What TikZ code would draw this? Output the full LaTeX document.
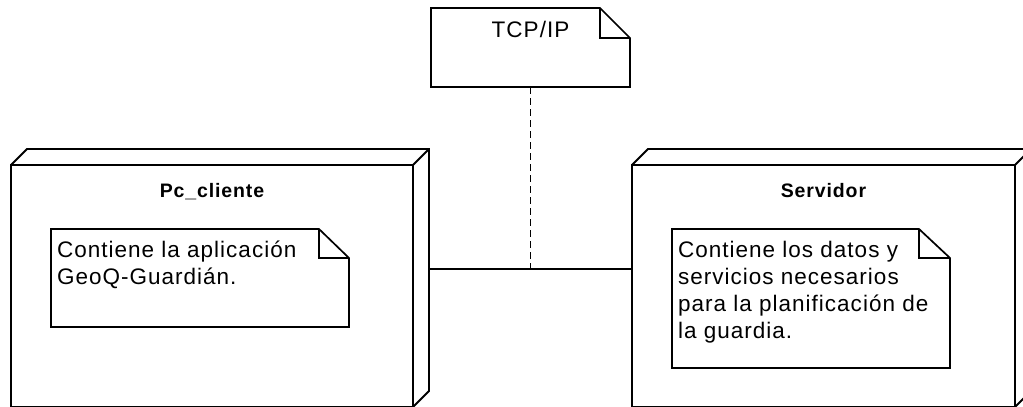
\documentclass[tikz,border=0pt]{standalone}
\usepackage{fontspec}
\setmainfont{Liberation Sans}
\newfontfamily\bodyfont{Liberation Sans}[LetterSpace=4.5]
\usetikzlibrary{calc}

\tikzset{
  nodebox/.style={rectangle, draw, line width=1.8pt, inner sep=0pt, outer sep=0pt},
  edge3d/.style={line width=1.8pt, line join=miter},
  notearea/.style={rectangle, draw=none, inner sep=0pt, outer sep=0pt},
  noteline/.style={line width=1.7pt, line join=miter},
  notetext/.style={inner sep=0pt, outer sep=0pt, font=\bodyfont\fontsize{22.5}{27}\selectfont},
  titletext/.style={inner sep=0pt, outer sep=0pt, font=\bodyfont\bfseries\fontsize{19.5}{23}\selectfont},
  link/.style={line width=1.7pt},
  dep/.style={line width=1.6pt, dash pattern=on 7pt off 4pt}
}

\begin{document}
\begin{tikzpicture}[x=1pt, y=-1pt]
\useasboundingbox (0,0) rectangle (1023,407);
\fill[white] (0,0) rectangle (1023,407);
\begin{scope}
\clip (0,0) rectangle (1023,407);

% client node (front face + 3D top and side)
\node[nodebox, minimum width=402pt, minimum height=242pt] (pc) at (212,286) {};
\draw[edge3d] (pc.north west) -- ++(16,-16) -- ($(pc.north east)+(16,-16)$)
  -- ($(pc.south east)+(16,-16)$) -- (pc.south east);
\draw[edge3d] (pc.north east) -- ++(16,-16);
\node[titletext, anchor=base] (pctitle) at ($(pc.north)+(0,32)$) {Pc\_cliente};

% server node
\node[nodebox, minimum width=383pt, minimum height=242pt] (srv) at (823.5,286) {};
\draw[edge3d] (srv.north west) -- ++(16,-16) -- ($(srv.north east)+(16,-16)$)
  -- ($(srv.south east)+(16,-16)$) -- (srv.south east);
\draw[edge3d] (srv.north east) -- ++(16,-16);
\node[titletext, anchor=base] (srvtitle) at ($(srv.north)+(0,32)$) {Servidor};

% note inside the client node
\node[notearea, minimum width=298pt, minimum height=98pt] (n1) at (200,278) {};
\draw[noteline] (n1.north west) -- ($(n1.north east)+(-30,0)$) -- ($(n1.north east)+(0,29)$)
  -- (n1.south east) -- (n1.south west) -- cycle;
\draw[noteline] ($(n1.north east)+(-30,0)$) -- ++(0,29) -- ($(n1.north east)+(0,29)$);
\node[notetext, anchor=base west] (t1) at ($(n1.north west)+(6,28)$)
  {\begin{tabular}[t]{@{}l@{}}Contiene la aplicación\\GeoQ-Guardián.\end{tabular}};

% note inside the server node
\node[notearea, minimum width=278pt, minimum height=139pt] (n2) at (811,298.5) {};
\draw[noteline] (n2.north west) -- ($(n2.north east)+(-31,0)$) -- ($(n2.north east)+(0,29)$)
  -- (n2.south east) -- (n2.south west) -- cycle;
\draw[noteline] ($(n2.north east)+(-31,0)$) -- ++(0,29) -- ($(n2.north east)+(0,29)$);
\node[notetext, anchor=base west] (t2) at ($(n2.north west)+(6,28)$)
  {\begin{tabular}[t]{@{}l@{}}Contiene los datos y\\servicios necesarios\\para la planificación de\\la guardia.\end{tabular}};

% protocol note
\node[notearea, minimum width=199pt, minimum height=79pt] (tcp) at (530.5,47.5) {};
\draw[noteline] (tcp.north west) -- ($(tcp.north east)+(-30,0)$) -- ($(tcp.north east)+(0,30)$)
  -- (tcp.south east) -- (tcp.south west) -- cycle;
\draw[noteline] ($(tcp.north east)+(-30,0)$) -- ++(0,30) -- ($(tcp.north east)+(0,30)$);
\node[notetext, anchor=base] (tcptext) at ($(tcp.north)+(0,29)$) {TCP/IP};

% communication path and its attached note
\coordinate (pcport) at ($(pc.north east)+(16,104)$);
\draw[link] (pcport) -- (srv.west |- pcport);
\draw[dep] (tcp.south) -- (tcp.south |- pcport);
\end{scope}
\end{tikzpicture}
\end{document}
